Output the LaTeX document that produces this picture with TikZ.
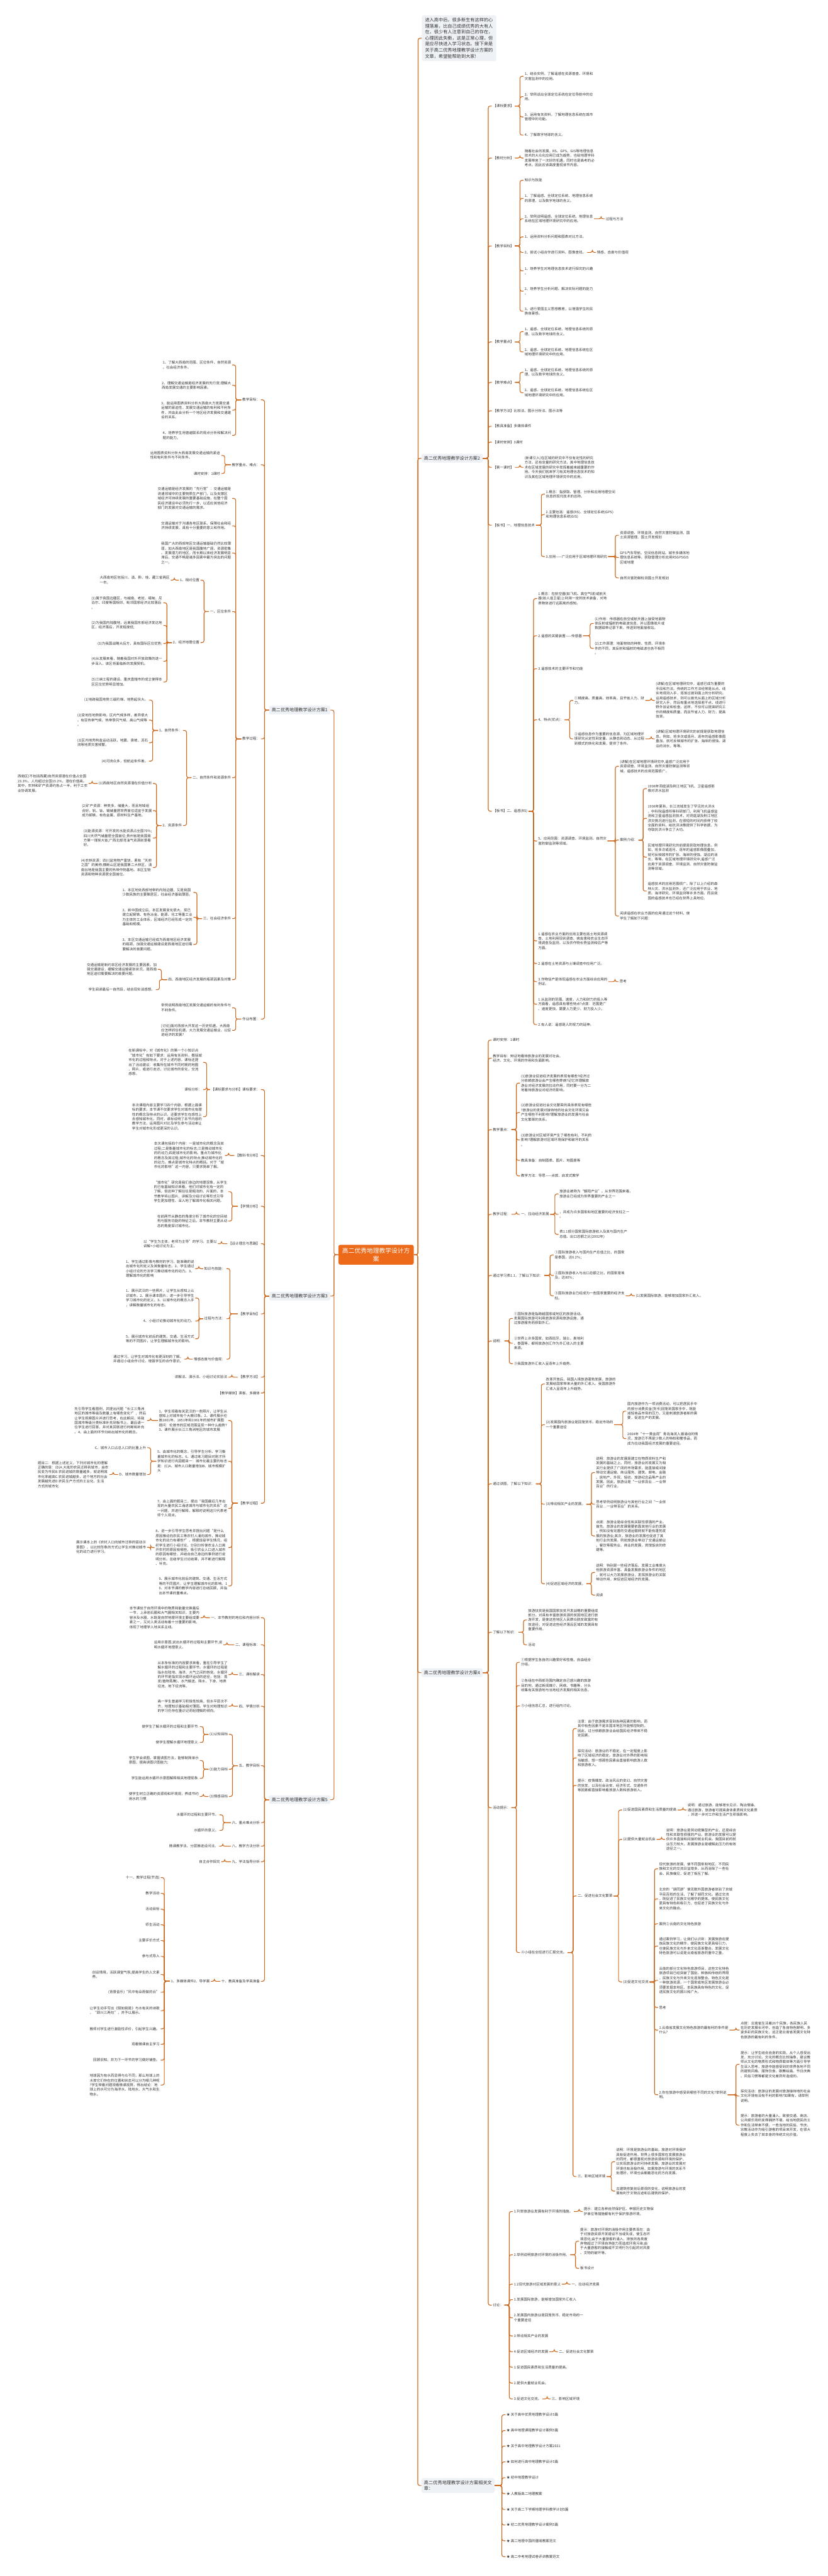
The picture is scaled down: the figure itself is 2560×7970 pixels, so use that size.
\documentclass[tikz,border=0pt]{standalone}
\usepackage{fontspec}
\setmainfont{Noto Sans CJK SC}
\definecolor{lc}{HTML}{CC6A22}
\definecolor{tc}{HTML}{333333}
\definecolor{lonec}{HTML}{EEF1F5}
\definecolor{ctrc}{HTML}{EE6A1B}
\newcommand\RNode[4]{\node[rt] (#1) at (#2,#3) {#4};}
\newcommand\LNode[4]{\node[lt] (#1) at (#2,#3) {#4};}
\newcommand\RConn[2]{\foreach \cx in {#2}{\draw[ln] (#1.east) -| ([xshift=-5.5pt]\cx.west) -- (\cx.west);}}
\newcommand\LConn[2]{\foreach \cx in {#2}{\draw[ln] (#1.west) -| ([xshift=5.5pt]\cx.east) -- (\cx.east);}}
\begin{document}
\begin{tikzpicture}[x=0.5pt,y=-0.5pt,
 t/.style={font=\fontsize{5.4pt}{7.2pt}\selectfont, text=tc, align=left, inner xsep=1.5pt, inner ysep=0.5pt},
 rt/.style={t,anchor=west}, lt/.style={t,anchor=east},
 ln/.style={draw=lc,line width=1.1pt,rounded corners=3pt},
 lone/.style={fill=lonec,rounded corners=2.5pt,font=\fontsize{6.9pt}{9.2pt}\selectfont,text=tc,inner xsep=4pt,inner ysep=3.5pt,align=left},
 ctr/.style={fill=ctrc,rounded corners=3pt,font=\fontsize{9.5pt}{12pt}\selectfont,text=white,inner xsep=6pt,inner ysep=5pt,align=center}]
\fill[white] (0,0) rectangle (2560,7970);
\useasboundingbox (0,0) rectangle (2560,7970);

% ---------- centre and level 1 ----------
\node[ctr] (c) at (1163,3882) {高二优秀地理教学设计方\\案};
\node[lone,anchor=north west,font=\fontsize{7pt}{9.35pt}\selectfont,inner xsep=5pt,inner ysep=4pt] (intro) at (1304,47) {进入高中后，很多新生有这样的心\\理落差，比自己成绩优秀的大有人\\在，很少有人注意到自己的存在，\\心理因此失衡，这是正常心理，但\\是应尽快进入学习状态。接下来是\\关于高二优秀地理教学设计方案的\\文章，希望能帮助到大家!};
\node[lone,anchor=west] (b2) at (1303,1418) {高二优秀地理教学设计方案2};
\node[lone,anchor=west] (b4) at (1303,5175) {高二优秀地理教学设计方案4};
\node[lone,anchor=west,font=\fontsize{7pt}{9.35pt}\selectfont] (b6) at (1303,7690) {高二优秀地理教学设计方案相关文\\章：};
\node[lone,anchor=east] (b1) at (1022,2197) {高二优秀地理教学设计方案1};
\node[lone,anchor=east] (b3) at (1022,4010) {高二优秀地理教学设计方案3};
\node[lone,anchor=east] (b5) at (1022,5568) {高二优秀地理教学设计方案5};
\RConn{c}{intro,b2,b4,b6}
\LConn{c}{b1,b3,b5}

% ---------- 方案2 ----------
\RNode{k1}{1521}{328}{【课标要求】}
\RNode{k1a}{1619}{236}{1、结合实例，了解遥感在资源普查、环境和\\灾害监测中的应用。}
\RNode{k1b}{1619}{299}{2、举例说出全球定位系统在定位导航中的应\\用。}
\RNode{k1c}{1619}{362}{3、运用有关资料，了解地理信息系统在城市\\管理中的功能。}
\RNode{k1d}{1619}{418}{4、了解数字地球的含义。}
\RNode{k2}{1521}{489}{【教材分析】}
\RNode{k2a}{1619}{489}{随着社会的发展，RS、GPS、GIS等地理信息\\技术的大众化应用已成为趋势，也给地理学科\\发展带来了一次好的机遇，同时也是高考的必\\考点。因此应该高度重视该节内容。}
\RNode{k3}{1521}{761}{【教学目标】}
\RNode{k3a}{1619}{558}{知识与技能}
\RNode{k3b}{1619}{614}{1、了解遥感、全球定位系统、地理信息系统\\的原理，以及数字地球的含义。}
\RNode{k3c}{1619}{677}{2、举例说明遥感、全球定位系统、地理信息\\系统在区域地理环境研究中的应用。}
\RNode{k3ca}{1870}{677}{过程与方法}
\RNode{k3d}{1619}{733}{1、运用资料分析问题和图表对比方法。}
\RNode{k3e}{1619}{781}{2、尝试小组合作进行资料、图像查找。}
\RNode{k3ea}{1843}{781}{情感、态度与价值观}
\RNode{k3f}{1619}{838}{1、培养学生对地理信息技术进行探究的兴趣\\。}
\RNode{k3g}{1619}{901}{2、培养学生分析问题、解决实际问题的能力\\。}
\RNode{k3h}{1619}{963}{3、进行爱国主义思想教育，以增强学生的民\\族自豪感。}
\RNode{k4}{1521}{1058}{【教学重点】}
\RNode{k4a}{1619}{1026}{1、遥感、全球定位系统、地理信息系统的原\\理，以及数字地球的含义。}
\RNode{k4b}{1619}{1089}{2、遥感、全球定位系统、地理信息系统在区\\域地理环境研究中的应用。}
\RNode{k5}{1521}{1183}{【教学难点】}
\RNode{k5a}{1619}{1152}{1、遥感、全球定位系统、地理信息系统的原\\理，以及数字地球的含义。}
\RNode{k5b}{1619}{1215}{2、遥感、全球定位系统、地理信息系统在区\\域地理环境研究中的应用。}
\RNode{k6}{1521}{1271}{【教学方法】比较法、图示分析法、图示法等}
\RNode{k7}{1521}{1319}{【教具准备】多媒体课件}
\RNode{k8}{1521}{1368}{【课时安排】3课时}
\RNode{k9}{1521}{1446}{【第一课时】}
\RNode{k9a}{1619}{1446}{(新课引入)在区域的研究中不仅有定性的研究\\方法，还有定量的研究方法，其中地理信息技\\术在区域发展的研究中发挥着越来越重要的作\\用。今天我们就来学习有关地理信息技术的知\\识及其在区域地理环境研究中的应用。}
\RNode{k10}{1521}{1625}{【板书】一、地理信息技术}
\RNode{k10a}{1685}{1529}{1.概念：指获取、管理、分析和应用地理空间\\信息的现代技术的总称。}
\RNode{k10b}{1685}{1592}{2.主要包括：遥感(RS)、全球定位系统(GPS)\\和地理信息系统(GIS)}
\RNode{k10c}{1685}{1722}{3.应用——广泛应用于区域地理环境研究}
\RNode{k10d}{1914}{1656}{资源调查、环境监测、自然灾害防御监测、国\\土资源管理、国土开发规划}
\RNode{k10e}{1914}{1725}{GPS汽车导航、空间信息网站、城市多媒体地\\理信息系统等。获取管理分析应用RSGPSGIS\\区域地理}
\RNode{k10f}{1914}{1788}{自然灾害防御检测国土开发规划}
\RNode{k11}{1521}{2510}{【板书】二、遥感(RS)}
\RNode{m1}{1661}{1852}{1.概念：在航空器(如飞机、高空气球)或航天\\器(如人造卫星)上利用一定的技术装备，对地\\表物体进行远距离的感知。}
\RNode{m2}{1661}{1967}{2.遥感的关键装置——传感器}
\RNode{m2a}{1836}{1929}{(1)作用：传感器在航空或航天器上接受地面物\\体反射或辐射的电磁波信息，并以图像胶片或\\数据磁带记录下来，传送到地面接收站。}
\RNode{m2b}{1836}{2006}{(2)工作原理：地面物体的种类、性质、环境条\\件的不同，其反射和辐射的电磁波也各不相同\\。}
\RNode{m3}{1661}{2069}{3.遥感技术的主要环节和功能}
\RNode{m4}{1661}{2227}{4、特点(优点)：}
\RNode{m4a}{1773}{2167}{①精度高、质量高、效率高，且节省人力、财\\力。}
\RNode{m4aa}{2025}{2167}{(讲解)在区域地理研究中，遥感已成为重要的\\手段和方法。传统的工作方法经常是从点、线\\实地观测入手，逐渐过渡到面上的分析研究。\\运用遥感技术，则可以首先从面上的区域分析\\研究入手，然后有重点地选择若干点、线进行\\野外验证和检查。这样，不仅可以提高研究工\\作的精度和质量，而且节省人力、财力，提高\\效率。}
\RNode{m4b}{1773}{2286}{②遥感信息作为重要的信息源，为区域地理环\\境研究从定性到定量、从静态到动态、从过程\\到模式的转化和发展，提供了条件。}
\RNode{m4ba}{2025}{2286}{(讲解)区域地理环境研究的前提是获取地理信\\息。例如，将多次或逐月、逐年的遥感影像图\\叠加，就可反映城市的扩张、海岸的侵蚀、湖\\泊的消长，等等。}
\RNode{m5}{1661}{2602}{5、应用范围：资源调查、环境监测、自然灾\\害防御监测等领域。}
\RNode{m5a}{1914}{2371}{(讲解)在区域地理环境研究中,遥感广泛应用于\\资源调查、环境监测、自然灾害防御监测等领\\域。遥感技术的应用范围很广。}
\RNode{m5b}{1914}{2599}{案例介绍：}
\RNode{m5ba}{2000}{2440}{1998年洞庭湖及荆江地区飞机、卫星遥感影\\像对洪水监测}
\RNode{m5bb}{2000}{2532}{1998年夏秋，长江流域发生了罕见的大洪水\\，中科院遥感所等科研部门，利用飞机遥感监\\测和卫星遥感监测技术，对洞庭湖及荆江地区\\洪灾情况进行监测，在很短的时间内获得了较\\全面的资料，给抗洪决策提供了科学依据，为\\夺取抗洪斗争立了大功。}
\RNode{m5bc}{2000}{2652}{区域地理环境研究的前提是获取地理信息。例\\如，将多次或逐月、逐年的遥感影像图叠加，\\就可反映城市的扩张、海岸的侵蚀、湖泊的消\\长，等等。在区域地理环境研究中,遥感广泛\\应用于资源调查、环境监测、自然灾害防御监\\测等领域。}
\RNode{m5bd}{2000}{2757}{遥感技术的应用范围很广。除了以上介绍的森\\林火灾、洪水监测外，还广泛应用于农业、地\\质、海洋研究、环境监测等许多方面。而且我\\国的遥感技术也已经在世界上具地位。}
\RNode{m5c}{1914}{2834}{阅读遥感在农业方面的应用通过这个材料，使\\学生了解如下问题：}
\RNode{m6}{1661}{2911}{1.遥感在农业方面的应用主要包括土地资源调\\查、土地利用现状调查、病虫害和农业生态环\\境调查及监测，以及农作物长势监测和估产等\\方面。}
\RNode{m7}{1661}{2981}{2.遥感在土地资源与土壤调查中应用广泛。}
\RNode{m8}{1661}{3037}{3.作物估产是体现遥感在农业方面综合应用的\\例证。}
\RNode{m8a}{1913}{3037}{思考}
\RNode{m9}{1661}{3107}{1.从监测的范围、速度，人力和财力的投入等\\方面看，遥感具有哪些特点?点拨：范围更广\\、速度更快、需要人力更少、财力投入少。}
\RNode{m10}{1661}{3170}{2.有人说：遥感是人的视力的延伸。}
\RConn{b2}{k1,k2,k3,k4,k5,k6,k7,k8,k9,k10,k11}
\RConn{k1}{k1a,k1b,k1c,k1d}
\RConn{k2}{k2a}
\RConn{k3}{k3a,k3b,k3c,k3d,k3e,k3f,k3g,k3h}
\RConn{k3c}{k3ca}
\RConn{k3e}{k3ea}
\RConn{k4}{k4a,k4b}
\RConn{k5}{k5a,k5b}
\RConn{k9}{k9a}
\RConn{k10}{k10a,k10b,k10c}
\RConn{k10c}{k10d,k10e,k10f}
\RConn{k11}{m1,m2,m3,m4,m5,m6,m7,m8,m9,m10}
\RConn{m2}{m2a,m2b}
\RConn{m4}{m4a,m4b}
\RConn{m4a}{m4aa}
\RConn{m4b}{m4ba}
\RConn{m5}{m5a,m5b,m5c}
\RConn{m5b}{m5ba,m5bb,m5bc,m5bd}
\RConn{m8}{m8a}

% ---------- 方案4 ----------
\RNode{p1}{1521}{3218}{课时安排：1课时}
\RNode{p2}{1521}{3274}{教学目标：辩证地看待旅游业的发展对社会、\\经济、文化、环境的作用和负面影响。}
\RNode{p3}{1521}{3495}{教学重点：}
\RNode{p3a}{1608}{3351}{(1)旅游业促进经济发展的表现有哪些?经济过\\分依赖旅游业会产生哪些弊病?记忆并理解旅\\游业对经济发展的拉动作用，同时要一分为二\\地看待旅游业对经济的影响。}
\RNode{p3b}{1608}{3442}{(2)旅游业促进社会文化繁荣的具体表现有哪些\\?旅游业的发展对接待地的社会文化环境又会\\产生哪些不利影响?理解旅游业的发展与社会\\文化繁荣的关系。}
\RNode{p3c}{1608}{3527}{(3)旅游业对区域环境产生了哪些有利、不利的\\影响?理解旅游对区域环境保护和破坏的关系\\。}
\RNode{p3d}{1608}{3590}{教具准备：自制图表、图片、地图册等}
\RNode{p3e}{1608}{3638}{教学方法：导思——点拨、启发式教学}
\RNode{p4}{1521}{3757}{教学过程：}
\RNode{p4a}{1608}{3757}{一、拉动经济发展}
\RNode{p4aa}{1727}{3694}{旅游业被称为“朝阳产业”。从世界范围来看，\\旅游业已经成为世界重要的产业之一}
\RNode{p4ab}{1727}{3757}{，并成为许多国家和地区重要的经济支柱之一\\。}
\RNode{p4ac}{1727}{3819}{表1.1部分国家国际旅游收入及其与国内生产\\总值、出口总额之比(2002年)}
\RNode{p5}{1521}{3946}{通过学习表1.1，了解以下知识：}
\RNode{p5a}{1712}{3883}{①国际旅游收入与国内生产总值之比，的国家\\是泰国，达6.2\%；}
\RNode{p5b}{1712}{3946}{②国际旅游收入与出口总额之比，的国家是埃\\及，达80\%；}
\RNode{p5c}{1712}{4009}{③国际旅游业已经成为一些国家重要的经济支\\柱。}
\RNode{p5ca}{1963}{4009}{(1)发展国际旅游，能够增加国家外汇收入。}
\RNode{p6}{1521}{4149}{说明：}
\RNode{p6a}{1586}{4079}{①国际旅游是指跨越国家或地区的旅游活动。\\发展国际旅游可利用旅游资源和旅游设施，通\\过旅游服务而获取外汇。}
\RNode{p6b}{1586}{4156}{②世界上许多国家，如西班牙、瑞士、奥地利\\、泰国等，都将旅游创汇作为外汇收入的主要\\来源。}
\RNode{p6c}{1586}{4219}{③我国旅游外汇收入呈逐年上升趋势。}
\RNode{p7}{1521}{4591}{通过读图，了解以下知识：}
\RNode{p7a}{1685}{4282}{改革开放后，我国入境旅游蓬勃发展，旅游的\\发展给国家带来大量的外汇收入。我国旅游外\\汇收入呈逐年上升趋势。}
\RNode{p7b}{1685}{4408}{(2)发展国内旅游业是回笼货币、稳定市场的\\一个重要途径}
\RNode{p7ba}{1937}{4366}{国内旅游作为一项消费活动，可以把居民手中\\的部分消费资金(货币)回笼到国家手中，既能\\减轻商品市场的压力，又能刺激旅游者新的需\\要，促进生产的发展。}
\RNode{p7bb}{1937}{4451}{2004年“十一黄金周”青岛海滨人潮涌动的情\\况，旅游已不再是少数人的特权和奢侈品，而\\成为拉动我国经济发展的重要途径。}
\RNode{p7c}{1685}{4654}{(3)带动相关产业的发展。}
\RNode{p7ca}{1840}{4556}{说明：旅游业的发展是建立在物质资料生产和\\发展的基础之上。同时，旅游业的发展又为相\\关行业提供了广阔的市场需求，能直接或间接\\带动交通运输、商业服务、建筑、邮电、金融\\、房地产、外贸、轻纺、旅游纪念品等产业的\\发展。因此，旅游业是“一业依百业…一业带\\百业”的行业。}
\RNode{p7cb}{1840}{4654}{思考举例说明旅游业与其他行业之间“一业依\\百业…一业带百业”的关系。}
\RNode{p7cc}{1840}{4752}{点拨：旅游业是综合性和关联性很强的产业。\\首先，旅游业的发展需要依靠其他行业的发展\\，例如没有完善的交通运输网就不能有蓬勃发\\展的旅游业;其次，旅游业的发展也促进了其\\他行业的发展，例如旅游业带动了交通运输业\\、餐饮等服务业、商业的发展，宾馆饭店的修\\建等。}
\RNode{p7d}{1685}{4900}{(4)促进区域经济的发展。}
\RNode{p7da}{1840}{4865}{说明：特别是一些经济落后、发展工业难度大\\但旅游资源丰富、具备发展旅游业条件的地区\\，就可以大力发展旅游业，发挥旅游业的关联\\带动作用，来促进区域经济的发展。}
\RNode{p7db}{1840}{4935}{阅读}
\RNode{p8}{1521}{5050}{了解以下知识：}
\RNode{p8a}{1630}{5012}{旅游扶贫是我国国家扶贫开发战略的重要组成\\部分。对具有丰富旅游资源的贫困地区进行旅\\游开发，是使这些地区人民群众脱贫致富的有\\效途径，对促进这些经济落后区域的发展具有\\重要作用。}
\RNode{p8b}{1630}{5089}{活动}
\RNode{p9}{1521}{5593}{活动提示：}
\RNode{p9a}{1608}{5143}{①根据学生各自的兴趣爱好和性格，自由组合\\分组。}
\RNode{p9b}{1608}{5215}{②各组在中西部范围内确定自己感兴趣的旅游\\目的地，通过新闻媒介、网络、书籍等，分头\\收集有关旅游地与当地经济发展的相关信息。}
\RNode{p9c}{1608}{5278}{③小组信息汇总，进行组内讨论。}
\RNode{p9d}{1608}{6041}{④小组在全班进行汇报交流。}
\RNode{d1}{1783}{5348}{注意：由于旅游需求受到各种因素的影响，而\\其中有些因素不是本国本地区所能够控制的。\\因此，过分依赖旅游业会给国民经济带来不稳\\定因素。}
\RNode{d2}{1783}{5439}{探究活动：旅游业的不稳定，在一定程度上影\\响了区域经济的稳定。旅游业对外界的影响相\\当敏感，想一想那些因素会直接影响旅游人数\\和旅游收入。}
\RNode{d3}{1783}{5524}{提示：疫情爆发、政治风云的变幻、自然灾害\\的突发，以及社会治安、经济形式、交通条件\\等因素都直接影响着旅游人数和旅游收入。}
\RNode{d4}{1783}{5866}{二、促进社会文化繁荣}
\RNode{e1}{1924}{5600}{(1)促进国民素质和生活质量的提高}
\RNode{e1a}{2123}{5600}{说明：通过旅游，能够增长见识、陶冶情操。\\通过旅游，旅游者可提高身体素质和文化素质\\，并进一步对工作和生活产生积极影响。}
\RNode{e2}{1924}{5691}{(2)提供大量就业机会}
\RNode{e2a}{2057}{5691}{说明：旅游业是劳动密集型的产业，还是综合\\性和关联性很强的产业。旅游业的发展可以提\\供许多直接和间接的就业机会。我国目前的就\\业压力较大，发展旅游业是缓解此压力的有效\\途径之一。}
\RNode{e3}{1924}{6132}{(3)促进文化交流}
\RNode{e3a}{2035}{5782}{现代旅游的发展，使不同国家和地区、不同民\\族和文化的交流日益增多，从而消除了一些社\\会、民族偏见，促进了相互了解。}
\RNode{e3b}{2035}{5875}{北京的“胡同游”使无数外国旅游者体验了京城\\平民百姓的生活，了解了胡同文化。通过交流\\，既促进了民族文化精华的提炼，使民族文化\\更具有特色和吸引力，也促进了民族文化与外\\来文化的融合。}
\RNode{e3c}{2035}{5952}{案例②云南的文化特色旅游}
\RNode{e3d}{2035}{6021}{通过案例学习，让我们认识到：发展旅游应提\\炼民族文化的精华，使民族文化更具吸引力，\\也使民族文化与外来文化逐渐整合。发展文化\\特色旅游可以说是云南省旅游的重中之重。}
\RNode{e3e}{2035}{6127}{云南的部分文化特色旅游项目，这些文化特色\\旅游项目已经突破了国别、种族和传统的界限\\，民族文化与外来文化逐渐整合。特色文化是\\一种旅游资源，一个国家或地区发展旅游业必\\须要发掘本地区、本民族具有特色的文化，促\\进民族文化的振兴和广大。}
\RNode{e3f}{2035}{6211}{思考}
\RNode{e3g}{2035}{6281}{1.云南省发展文化特色旅游的最有利的条件是\\什么?}
\RNode{e3ga}{2287}{6281}{点拨：云南省生活着26个民族，各民族人民\\在历史发展长河中，创造了各自特色鲜明、多\\姿多彩的民族文化，这正是云南省发展文化特\\色旅游的最有利的条件。}
\RNode{e3h}{2035}{6481}{2.你在旅游中感受到哪些不同的文化?举例说\\明。}
\RNode{e3ha}{2287}{6387}{提示：让学生结合自身的实践，从个人感受出\\发，充分讨论。文化的概念比较抽象，建议教\\师从文化的物质形式和物质载体等方面引导学\\生深入思考，旅游中能感受到的世界各地不同\\的建筑风格、服饰饮食、歌舞绘画、节日庆典\\、风俗习惯等都是文化差异所造成的。}
\RNode{e3hb}{2287}{6485}{探究活动：旅游业的发展对旅游接待地的社会\\文化环境有没有不利的影响?如果有，请举例\\说明。}
\RNode{e3hc}{2287}{6575}{提示：旅游者的大量涌入，致使交通、商店、\\公共娱乐场所变得拥挤不堪，给当地居民的工\\作和生活带来不便。一些当地的民俗、节庆、\\宗教活动作为吸引游客的项目来开发，在很大\\程度上失去了其本身的传统文化价值。}
\RNode{d5}{1783}{6734}{三、影响区域环境}
\RNode{f1}{1902}{6688}{说明：环境是旅游业的基础，旅游对环境保护\\具有促进作用。世界上很多国家在发展旅游业\\的同时，都很重视对旅游资源和环境的保护，\\以实现旅游业的可持续发展。旅游业的发展对\\环境也有消极作用，如果旅游与环境的关系不\\处理好，环境也会朝着恶化的方向发展。}
\RNode{f2}{1902}{6779}{古建筑修复前后景观的变化，说明旅游业的发\\展有利于文物古迹和古建筑的保护。}
\RNode{p10}{1521}{7132}{讨论：}
\RNode{g1}{1586}{6842}{1.列举旅游业发展有利于环境的措施。}
\RNode{g1a}{1802}{6842}{提示：建立各种自然保护区、申报历史文物保\\护单位等措施都有利于保护旅游环境。}
\RNode{g2}{1586}{6976}{2.举例说明旅游对环境的消极作用。}
\RNode{g2a}{1791}{6934}{提示：旅游对环境的消极作用主要表现在：由\\于对旅游资源开发建设不当或失误，使生态环\\境恶化;由于大量游客的涌入，排放的各类废\\弃物超过了环境自净能力而造成环境污染;由\\于大量游客的接触或不文明行为引起的对风景\\、文物的破坏等。}
\RNode{g2b}{1791}{7018}{板书设计}
\RNode{g3}{1586}{7067}{1.2现代旅游对区域发展的意义}
\RNode{g3a}{1764}{7067}{一、拉动经济发展}
\RNode{g4}{1586}{7115}{1.发展国际旅游，能够增加国家外汇收入}
\RNode{g5}{1586}{7171}{2.发展国内旅游业是回笼货币、稳定市场的一\\个重要途径}
\RNode{g6}{1586}{7227}{3.带动相关产业的发展}
\RNode{g7}{1586}{7276}{4.促进区域经济的发展}
\RNode{g7a}{1725}{7276}{二、促进社会文化繁荣}
\RNode{g8}{1586}{7324}{1.促进国民素质和生活质量的提高。}
\RNode{g9}{1586}{7373}{2.提供大量就业机会。}
\RNode{g10}{1586}{7422}{3.促进文化交流。}
\RNode{g10a}{1703}{7422}{三、影响区域环境}
\RConn{b4}{p1,p2,p3,p4,p5,p6,p7,p8,p9,p10}
\RConn{p3}{p3a,p3b,p3c,p3d,p3e}
\RConn{p4}{p4a}
\RConn{p4a}{p4aa,p4ab,p4ac}
\RConn{p5}{p5a,p5b,p5c}
\RConn{p5c}{p5ca}
\RConn{p6}{p6a,p6b,p6c}
\RConn{p7}{p7a,p7b,p7c,p7d}
\RConn{p7b}{p7ba,p7bb}
\RConn{p7c}{p7ca,p7cb,p7cc}
\RConn{p7d}{p7da,p7db}
\RConn{p8}{p8a,p8b}
\RConn{p9}{p9a,p9b,p9c,p9d}
\RConn{p9d}{d1,d2,d3,d4,d5}
\RConn{d4}{e1,e2,e3}
\RConn{e1}{e1a}
\RConn{e2}{e2a}
\RConn{e3}{e3a,e3b,e3c,e3d,e3e,e3f,e3g,e3h}
\RConn{e3g}{e3ga}
\RConn{e3h}{e3ha,e3hb,e3hc}
\RConn{d5}{f1,f2}
\RConn{p10}{g1,g2,g3,g4,g5,g6,g7,g8,g9,g10}
\RConn{g1}{g1a}
\RConn{g2}{g2a,g2b}
\RConn{g3}{g3a}
\RConn{g7}{g7a}
\RConn{g10}{g10a}

% ---------- related articles ----------
\RNode{h1}{1563}{7471}{★ 关于高中优秀地理教学设计5篇}
\RNode{h2}{1563}{7520}{★ 高中地理课程教学设计案例5篇}
\RNode{h3}{1563}{7568}{★ 关于高中地理教学设计方案2021}
\RNode{h4}{1563}{7617}{★ 如何进行高中地理教学设计5篇}
\RNode{h5}{1563}{7666}{★ 初中地理教学设计}
\RNode{h6}{1563}{7715}{★ 人教版高二地理教案}
\RNode{h7}{1563}{7764}{★ 关于高二下学期地理学科教学计划5篇}
\RNode{h8}{1563}{7812}{★ 初二优秀地理教学设计案例5篇}
\RNode{h9}{1563}{7861}{★ 高二地理中国的疆域教案范文}
\RNode{h10}{1563}{7910}{★ 高二中考地理试卷评讲教案范文}
\RConn{b6}{h1,h2,h3,h4,h5,h6,h7,h8,h9,h10}

% ---------- 方案1 ----------
\LNode{q1}{807}{1237}{教学目标：}
\LNode{q1a}{718}{1129}{1、了解大西南的范围、区位条件、自然资源\\、社会经济条件。}
\LNode{q1b}{718}{1192}{2、理解交通运输是经济发展的先行官;理解大\\西南发展交通的主要影响因素。}
\LNode{q1c}{718}{1269}{3、能运用图表资料分析大西南大力发展交通\\运输的紧迫性，发展交通运输的有利和不利条\\件，并由此会分析一个地区经济发展和交通建\\设的关系。}
\LNode{q1d}{718}{1347}{4、培养学生用普遍联系的观点分析和解决问\\题的能力。}
\LNode{q2}{807}{1438}{教学重点、难点：}
\LNode{q2a}{684}{1409}{运用图表资料分析大西南发展交通运输的紧迫\\性和有利条件与不利条件。}
\LNode{q2b}{684}{1465}{课时安排：1课时}
\LNode{q3}{807}{2286}{教学过程：}
\LNode{q3a}{718}{1542}{交通运输是经济发展的“先行官”：交通运输是\\流通领域中的主要物质生产部门，以及支撑区\\域经济可持续发展的重要基础设施，在整个国\\民经济建设中必须先行一步，以适应其他经济\\部门的发展对交通运输的需求。}
\LNode{q3b}{718}{1627}{交通运输对于沟通各地区联系、保障社会和经\\济持续发展，具有十分重要的意义和作用。}
\LNode{q3c}{718}{1711}{我国广大的西部地区交通运输基础仍然比较薄\\弱，如大西南地区是我国腹地广阔、资源密集\\、发展潜力的地区，而长期以来经济发展明显\\滞后，交通不畅是诸多因素中最为突出的问题\\之一。}
\LNode{q3d}{718}{1892}{一、区位条件}
\LNode{r1}{620}{1795}{1、相对位置}
\LNode{r1a}{528}{1795}{大西南地区包括川、滇、黔、桂、藏三省两区\\一市。}
\LNode{r2}{620}{1988}{2、经济地理位置}
\LNode{r2a}{505}{1865}{(1)属于我国边疆区，与越南、老挝、缅甸、尼\\泊尔、印度等国相邻，毗邻国家经济比较落后\\。}
\LNode{r2b}{505}{1935}{(2)为我国内陆腹地，远离我国东部经济发达地\\区，经济落后，开发程度低;}
\LNode{r2c}{505}{1991}{(3)为我国战略大后方，具有国际区位优势;}
\LNode{r2d}{505}{2046}{(4)从发展来看，随着我国对外开放政策的进一\\步深入，该区将面临新的发展契机。}
\LNode{r2e}{505}{2110}{(5)三峡工程的建设、重庆直辖市的成立使得本\\区区位优势明显增加。}
\LNode{q3e}{718}{2406}{二、自然条件和资源条件}
\LNode{r3}{566}{2260}{1、自然条件：}
\LNode{r3a}{461}{2166}{(1)地跨我国地势三级阶梯，地势起伏大。}
\LNode{r3b}{461}{2228}{(2)受地形地势影响，区内气候多样，差异很大\\。有亚热带气候、热带季风气候、高山气候等\\。}
\LNode{r3c}{461}{2298}{(3)区内地壳构造运动活跃，地震、滑坡、泥石\\流等地质灾害频繁。}
\LNode{r3d}{461}{2355}{(4)河流众多，但航运条件差。}
\LNode{r4}{566}{2554}{2、资源条件}
\LNode{r4a}{473}{2424}{(1)西南地区自然资源潜在价值分析}
\LNode{r4aa}{274}{2424}{西南区(不包括西藏)自然资源潜在价值占全国\\23.3\%，人均超过全国19.2\%，潜在价值高。\\其中，农林和矿产资源约各占一半，利于工农\\业协调发展。}
\LNode{r4b}{473}{2508}{(2)矿产资源：种类多，储量大，而且地域组\\合好。钒、钛、锡储量居世界首位适宜于发展\\成为钢铁、有色金属、原材料生产基地。}
\LNode{r4c}{473}{2593}{(3)能源资源：可开发的水能资源占全国70\%;\\四川天然气储量居全国首位;贵州省是我国南\\方第一煤炭大省;广西北部湾油气资源前景看\\好。}
\LNode{r4d}{473}{2684}{(4)农林资源：四川盆地物产富饶，素有“天府\\之国”的美称;横断山区是我国第二大林区，滇\\南谷地是我国主要的热带作物基地。本区生物\\资源和物种资源居全国首位。}
\LNode{q3f}{718}{2842}{三、社会经济条件}
\LNode{r5a}{598}{2761}{1、本区地处西部地带的内陆边疆，又是我国\\少数民族的主要聚居区，社会经济基础薄弱。}
\LNode{r5b}{598}{2838}{2、新中国成立后，本区发展变化很大，现已\\建立起钢铁、有色冶金、能源、化工等重工业\\为主体的工业体系，区域经济已经形成一定的\\基础和规模。}
\LNode{r5c}{598}{2922}{3、本区交通运输已经成为西南地区经济发展\\的瓶颈，加强交通运输建设是西南地区迫切需\\要解决的首要问题。}
\LNode{q3g}{718}{3031}{四、西南地区经济发展的瓶颈因素及对策}
\LNode{r6a}{488}{2999}{交通运输是制约本区经济发展的主要因素。加\\强交通建设，缓解交通运输紧张状况，是西南\\地区迫切需要解决的首要问题。}
\LNode{r6b}{482}{3062}{学生阅读最后一自然段，结合现实谈感想。}
\LNode{q4}{807}{3153}{作业布置：}
\LNode{q4a}{718}{3118}{举例说明西南地区发展交通运输的有利条件与\\不利条件。}
\LNode{q4b}{718}{3188}{[讨论]面对西部大开发这一历史机遇，大西南\\应怎样抓住机遇，大力发展交通运输业，以促\\进经济的发展?}
\LConn{b1}{q1,q2,q3,q4}
\LConn{q1}{q1a,q1b,q1c,q1d}
\LConn{q2}{q2a,q2b}
\LConn{q3}{q3a,q3b,q3c,q3d,q3e,q3f,q3g}
\LConn{q3d}{r1,r2}
\LConn{r1}{r1a}
\LConn{r2}{r2a,r2b,r2c,r2d,r2e}
\LConn{q3e}{r3,r4}
\LConn{r3}{r3a,r3b,r3c,r3d}
\LConn{r4}{r4a,r4b,r4c,r4d}
\LConn{r4a}{r4aa}
\LConn{q3f}{r5a,r5b,r5c}
\LConn{q3g}{r6a,r6b}
\LConn{q4}{q4a,q4b}

% ---------- 方案3 ----------
\LNode{s1}{807}{3371}{【课标要求与分析】课标要求：}
\LNode{s1a}{628}{3287}{在新课标中，对《城市化》的第一个小知识点\\“城市化”有如下要求：运用有关资料，概括城\\市化的过程和特点。对于上述内容，课标还提\\出了活动建议：收集所在城市不同时期的地图\\、照片，或进行走访，讨论城市的变化，交流\\感想。}
\LNode{s1b}{628}{3371}{课标分析：}
\LNode{s1c}{628}{3455}{本次课程内容主要学习四个内容，根据上面课\\标的要求，本节课不仅要求学生对城市化有理\\性的概念及特点的认识，还要求学生在感性上\\去感知城市化。同时，课标说明了本节内容的\\教学方法，运用图片对比及学生参与活动来让\\学生对城市化形成更深的认识。}
\LNode{s2}{807}{3575}{【教科书分析】}
\LNode{s2a}{696}{3575}{本次课包括四个内容：一是城市化的概念及其\\过程;二是衡量城市化的标志;三是推动城市化\\的的动力;四是城市化的影响。重点为城市化\\的概念及其过程;城市化的特点;推动城市化的\\的动力。难点是城市化特点的概括。对于“城\\市化的影响”这一内容，只要求简单了解。}
\LNode{s3}{807}{3732}{【学情分析】}
\LNode{s3a}{706}{3687}{“城市化”研究是我们身边的地理现象，从学生\\的已有基础知识来看，他们对城市化有一定的\\了解，但这种了解往往是粗浅的、片面的，本\\节教学将以图片、讲解及分组讨论等形式引导\\学生更加理性、深入地了解城市化相关问题。}
\LNode{s3b}{706}{3778}{在前两节从静态的角度分析了城市化的空间结\\构与服务功能的特征之后，本节教材主要从动\\态的角度探讨城市化。}
\LNode{s4}{807}{3848}{【设计理念与思路】}
\LNode{s4a}{674}{3848}{以“学生为主体，老师为主导”的学习。主要以\\讲解+小组讨论为主。}
\LNode{s5}{807}{4065}{【教学目标】}
\LNode{s5a}{700}{3925}{知识与技能：}
\LNode{s5aa}{604}{3925}{1、学生通过影像与教材的学习，能准确的说\\出城市化的定义及其衡量标志。2、学生通过\\小组讨论的方法学习推动城市化的动力。3、\\理解城市化的影响}
\LNode{s5b}{700}{4080}{过程与方法：}
\LNode{s5ba}{604}{4016}{1、展示武汉的一些照片，让学生从感知上认\\识城市。2、展示课本图片，进一步引导学生\\学习城市化的定义。3、以城市化的概念入手\\，讲解衡量城市化的标志。}
\LNode{s5bb}{604}{4087}{4、小组讨论推动城市化的动力。}
\LNode{s5bc}{604}{4142}{5、展示城市化前后的建筑、交通、生活方式\\等的不同图片，让学生理解城市化的影响。}
\LNode{s5c}{700}{4205}{情感态度与价值观：}
\LNode{s5ca}{570}{4205}{通过学习，让学生对城市化有更深刻的了解，\\并通过小组合作讨论，增强学生的合作意识。}
\LNode{s6}{807}{4261}{【教学方法】}
\LNode{s6a}{706}{4261}{讲解法、演示法、小组讨论实验法}
\LNode{s7}{807}{4310}{【教学媒体】黑板、多媒体}
\LNode{s8}{807}{4651}{【教学过程】}
\LNode{s8a}{706}{4395}{1、学生观看有关武汉的一些照片，让学生从\\感知上对城市有个大概印象。2、课件展示伦\\敦1801年、1851年和1981年的城市扩展图\\提问：伦敦市的区域范围呈现一种什么趋势?\\3、课件展示长江三角洲地区的城市发展}
\LNode{s8aa}{455}{4395}{先引导学生看图例，并提出问题“长江三角洲\\地区的城市等级及数量上有哪些变化?”，然后\\让学生观察图片并进行思考，在此期间，将我\\国城市等级分类标准补充到板书上，最后请一\\位学生进行回答，并对其回答进行判断和补充\\。4、由上面的环节归纳出城市化的概念。}
\LNode{s8b}{706}{4521}{5、由城市化的概念，引导学生分析、学习衡\\量城市化的标志。6、通过练习题目对刚才所\\学知识进行巩固题目一：城市化最主要的标志\\是：(C)A、城市人口数量增加B、城市规模扩\\大}
\LNode{s8ba}{455}{4479}{C、城市人口占总人口的比重上升}
\LNode{s8bb}{455}{4562}{D、城市数量增加}
\LNode{s8bba}{339}{4562}{题目二：根据上述定义，下列对城市化的理解\\正确的是：(D)A.大批的农民迁移到城市，由农\\民变为市民B.农民进城的数量越多，就说明城\\市化率越高C.农民进城越多，这个地方的社会\\发展越先进D.农民生产方式的工业化、生活\\方式的城市化}
\LNode{s8c}{706}{4667}{7、由上面的题目二，提出“我国最近几年出\\现的大量农民工涌进城市与城市化的关系”这\\一问题，并进行解释，解释时说明这只代表老\\师个人观点。}
\LNode{s8d}{706}{4788}{8、进一步引导学生思考并提出问题“是什么\\原因推动向农民工等农村人涌向城市，推动城\\市化的动力有哪些?”，根据班级学生情况，组\\织学生进行小组讨论，分别分析使农业人口离\\开农村的原因有哪些，吸引农业人口进入城市\\的原因有哪些，并结合自己身边的事例进行说\\明分析。总结学生讨论结果，并不断进行解释\\、补充。}
\LNode{s8da}{455}{4787}{展示课本上的《农村人口向城市迁移的驱动示\\意图》，以比较形象的方式让学生对推动城市\\化的动力进行学习。}
\LNode{s8e}{706}{4907}{9、展示城市化前后的建筑、交通、生活方式\\等的不同图片，让学生理解城市化的影响。1\\0、对本节课的教学内容进行总结回顾，并指\\出本节课的重难点。}
\LConn{b3}{s1,s2,s3,s4,s5,s6,s7,s8}
\LConn{s1}{s1a,s1b,s1c}
\LConn{s2}{s2a}
\LConn{s3}{s3a,s3b}
\LConn{s4}{s4a}
\LConn{s5}{s5a,s5b,s5c}
\LConn{s5a}{s5aa}
\LConn{s5b}{s5ba,s5bb,s5bc}
\LConn{s5c}{s5ca}
\LConn{s6}{s6a}
\LConn{s8}{s8a,s8b,s8c,s8d,s8e}
\LConn{s8a}{s8aa}
\LConn{s8b}{s8ba,s8bb}
\LConn{s8bb}{s8bba}
\LConn{s8d}{s8da}

% ---------- 方案5 ----------
\LNode{u1}{807}{5005}{一、本节教材的地位和内容分析}
\LNode{u1a}{620}{5005}{本节课处于自然环境中的物质和能量交换最后\\一节，上承岩石圈和大气圈相关知识，主要内\\容涉及水圈，水既是自然地理环境主要组成要\\素之一，又对人类活动有着十分重要的影响，\\体现了地理学人地关系主线。}
\LNode{u2}{807}{5089}{二、课程标准：}
\LNode{u2a}{691}{5089}{运用示意图,说出水循环的过程和主要环节,说\\明水循环地理意义。}
\LNode{u3}{807}{5181}{三、课标解读}
\LNode{u3a}{707}{5181}{从本条标准的内容要求来看，重在引导学生了\\解水循环的过程和主要环节。水循环的过程是\\指水在陆地、海洋、大气之间的转变。水循环\\的环节是指实现水循环运动的途径，包括：蒸\\发(植物蒸腾)、水汽输送、降水、下渗、地表\\径流、地下径流等。}
\LNode{u4}{807}{5279}{四、学情分析}
\LNode{u4a}{707}{5279}{高一学生普遍学习积极性较高，但水平层次不\\齐，地理知识基础相对薄弱。学生对地理知识\\的学习仍存在重识记而轻理解的倾向。}
\LNode{u5}{807}{5463}{五、教学目标}
\LNode{v1}{708}{5366}{(1)认知目标}
\LNode{v1a}{618}{5342}{使学生了解水循环的过程和主要环节.}
\LNode{v1b}{618}{5391}{使学生理解水循环地理意义.}
\LNode{v2}{708}{5474}{(2)能力目标}
\LNode{v2a}{618}{5447}{学生学会读图，掌握读图方法，能够制简单示\\意图，提高读图识图能力;}
\LNode{v2b}{618}{5502}{学生能运用水循环示意图解释相关地理现象.}
\LNode{v3}{708}{5558}{(3)情感目标}
\LNode{v3a}{618}{5558}{使学生树立正确的资源观和环境观，养成节约\\用水的习惯.}
\LNode{u6}{807}{5639}{六、重点难点分析}
\LNode{u6a}{679}{5615}{水循环的过程和主要环节。}
\LNode{u6b}{679}{5663}{水循环的意义。}
\LNode{u8}{807}{5712}{八、教学方法分析}
\LNode{u8a}{678}{5712}{微课教学法、分层推进设问法、}
\LNode{u9}{807}{5760}{九、学法指导分析}
\LNode{u9a}{684}{5760}{自主合作探究}
\LNode{u10}{807}{6130}{十、教具准备及学具准备}
\LNode{w0}{652}{6130}{1、多媒体课件2、导学案}
\LNode{w1}{497}{5809}{十一、教学过程(节选)}
\LNode{w2}{497}{5858}{教学活动}
\LNode{w3}{497}{5907}{活动目标}
\LNode{w4}{497}{5955}{师生活动}
\LNode{w5}{497}{6004}{主要评价方式}
\LNode{w6}{497}{6053}{参与式导入}
\LNode{w7}{497}{6109}{创设情境，活跃课堂气氛;提高学生的人文素\\养。}
\LNode{w8}{497}{6164}{(背景音乐)“风中有朵雨做的云”}
\LNode{w9}{497}{6221}{让学生动手写出《假如我是》与水有关的诗歌\\，“即兴三两句”，并予以展示。}
\LNode{w10}{497}{6277}{教师对学生进行激励性评价，引起学生兴趣。}
\LNode{w11}{497}{6325}{观看微课自主学习}
\LNode{w12}{497}{6374}{回顾旧知，并为下一环节的学习做好铺垫。}
\LNode{w13}{497}{6451}{地球因为有水而显得与众不同，那么地球上的\\水按它们存在的位置和状态可以分为哪几种呢\\?学生带着问题观看微课视屏，得出结论：地\\球上的水可分为海洋水、陆地水、大气水和生\\物水。}
\LConn{b5}{u1,u2,u3,u4,u5,u6,u8,u9,u10}
\LConn{u1}{u1a}
\LConn{u2}{u2a}
\LConn{u3}{u3a}
\LConn{u4}{u4a}
\LConn{u5}{v1,v2,v3}
\LConn{v1}{v1a,v1b}
\LConn{v2}{v2a,v2b}
\LConn{v3}{v3a}
\LConn{u6}{u6a,u6b}
\LConn{u8}{u8a}
\LConn{u9}{u9a}
\LConn{u10}{w0}
\LConn{w0}{w1,w2,w3,w4,w5,w6,w7,w8,w9,w10,w11,w12,w13}
\end{tikzpicture}
\end{document}
